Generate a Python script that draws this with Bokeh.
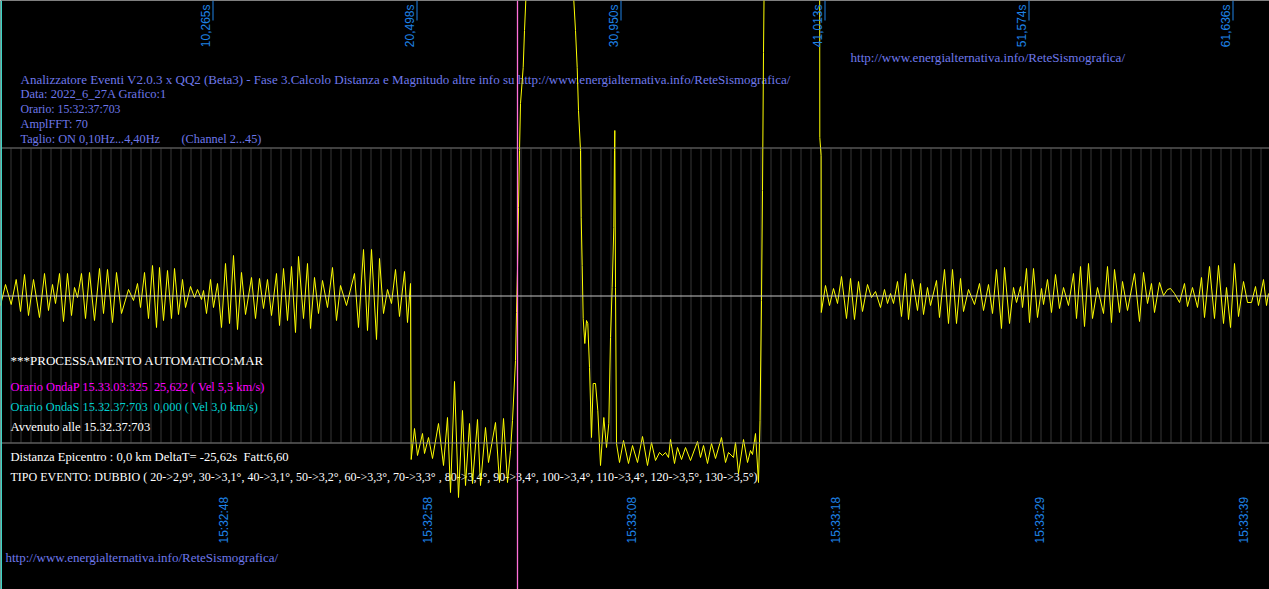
import numpy as np
from bokeh.plotting import figure
from bokeh.models import Range1d
from bokeh.core.properties import value
from bokeh.embed import file_html
from bokeh.resources import INLINE

# ---------------- data (x = sample position, y = amplitude, up positive) -------------
noise_pre_x = [0, 5, 10.7, 15.7, 20, 24, 28, 33, 39, 44, 48, 52, 55, 59, 63, 67, 71, 74, 77, 81,
               85, 89, 94, 99, 103, 107, 112, 116, 121, 128, 133, 137, 140, 144, 148, 152, 156, 159,
               163, 167, 171, 174, 178, 182, 185, 190, 194, 197, 201, 203, 206, 210, 213, 217, 221,
               225, 229, 233, 237, 241, 245, 251, 255, 259, 263, 267, 271, 276, 279, 283, 287, 291,
               295, 298, 303, 307, 310, 314, 318, 322, 327, 332, 336, 340, 346, 354, 358, 363, 367,
               371, 376, 379, 383, 387, 391, 395, 399, 404, 407, 410]
noise_pre_y = [-10, 11, -9, 16, -16, 21, -20, 16, -22, 22, -15, 11, -8, 22, -26, 22, -20, 8, -2, 22,
               -23, 23, -25, 27, -18, 26, -27, 23, -18, 6, -5, 12, -12, 23, -23, 30, -32, 28,
               -25, 25, -23, 27, -19, 16, -12, 9, -2, 6, -4, 5, -18, 16, -12, 12, -32,
               32, -28, 40, -34, 23, -19, 18, -23, 17, -13, 16, -20, 22, -30, 27, -25, 29,
               -37, 39, -23, 32, -33, 18, -18, 15, -12, 28, -25, 10, -10, 22, -32, 46, -35,
               46, -44, 37, -18, 6, -8, 26, -21, 24, -27, 12]

event_x = [410.7, 414, 417, 422, 424, 428, 432, 438, 443, 447, 450, 454, 458, 462, 465, 469, 472,
           477, 480, 485, 488, 495, 499, 503, 507, 510, 512, 515, 516, 517, 518, 519, 520, 522.7,
           524, 525.3, 549, 573.3, 575, 576.7, 578, 580, 580.7, 581.7, 582.7, 584.3, 586, 587.3,
           589, 591, 592.7, 595, 597.3, 600, 603.3, 606, 608.3, 610, 611.7, 613.3, 614, 614.3, 615,
           616, 619, 623, 628, 632, 637, 642, 647, 651, 655, 659, 662, 665, 668, 670, 674, 677,
           681, 685, 690, 697, 700, 703, 707, 711, 715, 721, 725, 728, 733, 735, 738, 743, 747,
           750, 752, 755, 758, 759.5, 761, 762, 763, 763.5, 791, 819.2, 819.3, 820.6, 820.8]
event_y = [-164, -133, -160, -138, -158, -142, -163, -128, -170, -122, -197, -86, -202, -115, -190,
           -128, -188, -124, -190, -132, -167, -127, -187, -123, -187, -155, -125, -65, -17, 27, 88,
           145, 192, 228, 265, 295, 420, 295, 265, 228, 185, 145, 78, 30, -23, -48, -25, -28, -72,
           -142, -88, -88, -115, -170, -122, -152, -128, -42, 8, 68, 145, 165, 8,
           -148, -167, -145, -168, -150, -167, -141, -170, -147, -165, -157, -160, -157, -162,
           -144, -168, -152, -164, -152, -165, -146, -162, -150, -168, -148, -163, -142, -167,
           -157, -162, -147, -178, -144, -167, -155, -159, -138, -187, -125, -5, 105, 243, 295,
           420, 300, 158, 140, -17]

noise_post_x = [825, 829, 833, 837, 841, 846, 850, 854, 858, 862, 867, 871, 875, 880, 884, 887, 890,
                893, 897, 901, 905, 908, 912, 917, 920, 923, 927, 930, 936, 939, 944, 948, 952, 956,
                960, 963, 968, 974, 979, 983, 988, 992, 996, 1001, 1004, 1009, 1013, 1016, 1020,
                1022, 1026, 1029, 1033, 1037, 1041, 1043, 1047, 1051, 1055, 1059, 1063, 1068, 1073,
                1076, 1080, 1084, 1088, 1092, 1097, 1103, 1107, 1111, 1114, 1119, 1122, 1127, 1134,
                1139, 1143, 1147, 1151, 1154, 1159, 1163, 1167, 1170, 1174, 1179, 1184, 1187, 1192,
                1197, 1201, 1204, 1209, 1214, 1218, 1223, 1226, 1230, 1234, 1238, 1243, 1247, 1251,
                1255, 1258, 1263, 1266, 1268]
noise_post_y = [10, -10, 7, -8, 19, -23, 17, -24, 14, -16, 11, -2, 4, -12, 6, -8, 2,
                -8, 14, -21, 22, -24, 16, -15, 12, -19, 8, -10, 15, -22, 26, -28, 26, -28,
                17, -16, 6, -9, 12, -15, 11, -18, 26, -33, 28, -28, 8, -7, 9,
                -12, 27, -27, 27, -22, 7, -9, 16, -17, 21, -13, 8, -10, 22,
                -23, 29, -31, 32, -23, 8, -18, 29, -27, 26, -17, 14, -15, 22,
                -26, 23, -8, 12, -17, 13, 0, 6, 7, 2, -7, 12, -11, 8,
                -12, 18, -22, 29, -23, 30, -28, 8, -32, 32, -21, 14, -7, -7,
                9, -10, 16, -10, 2]

top_tick_x = [212, 416, 620, 824, 1028, 1232]
top_tick_labels = ["10,265s", "20,498s", "30,950s", "41,013s", "51,574s", "61,636s"]
bottom_tick_x = [224, 428, 632, 836, 1040, 1244]
bottom_tick_labels = ["15:32:48", "15:32:58", "15:33:08", "15:33:18", "15:33:29", "15:33:39"]
onda_marker_x = 517

NB = "\u00a0"
header_lines = [
    "Analizzatore Eventi V2.0.3 x QQ2 (Beta3) - Fase 3.Calcolo Distanza e Magnitudo altre info su http://www.energialternativa.info/ReteSismografica/",
    "Data: 2022_6_27A Grafico:1",
    "Orario: 15:32:37:703",
    "AmplFFT: 70",
    "Taglio: ON 0,10Hz...4,40Hz" + NB * 7 + "(Channel 2...45)",
]
site_url = "http://www.energialternativa.info/ReteSismografica/"
proc_line = "***PROCESSAMENTO AUTOMATICO:MAR"
onda_p_line = "Orario OndaP 15.33.03:325" + NB * 2 + "25,622 ( Vel 5,5 km/s)"
onda_s_line = "Orario OndaS 15.32.37:703" + NB * 2 + "0,000 ( Vel 3,0 km/s)"
avvenuto_line = "Avvenuto alle 15.32.37:703"
distanza_line = "Distanza Epicentro : 0,0 km DeltaT= -25,62s" + NB * 2 + "Fatt:6,60"
tipo_line = ("TIPO EVENTO: DUBBIO ( 20->2,9°, 30->3,1°, 40->3,1°, 50->3,2°, 60->3,3°, 70->3,3° , "
             "80->3,4°, 90->3,4°, 100->3,4°, 110->3,4°, 120->3,5°, 130->3,5°)")

# ---------------- figure -------------
TOP = 295  # amplitude at top edge of the canvas


def yy(py):
    """convert a canvas pixel row into amplitude coordinate"""
    return TOP - py


p = figure(width=1269, height=589, x_range=Range1d(0, 1269), y_range=Range1d(-294, 295),
           output_backend="svg", toolbar_location=None, x_axis_type=None, y_axis_type=None,
           min_border=0, background_fill_color="black", border_fill_color="black",
           outline_line_color=None)

# vertical grid
gx = np.arange(10.5, 1269, 10)
p.segment(x0=gx, y0=yy(148), x1=gx, y1=yy(442), line_color="#363636", line_width=1)

# text
serif = value("Liberation Serif")
sans = value("Liberation Sans")
hdr_col = "#6e78ea"
DY = -5.5
p.text(x=[20] * 5, y=[yy(84.5 + DY + 14.75 * i) for i in range(5)], text=header_lines,
       text_font=serif, text_font_size=["13px", "12.5px", "11.8px", "12.3px", "12.3px"],
       text_color=hdr_col, text_baseline="alphabetic")
p.text(x=[850, 5], y=[yy(62 + DY), yy(562 + DY)], text=[site_url, site_url], text_font=serif,
       text_font_size=["13.1px", "13px"], text_color=hdr_col, text_baseline="alphabetic")

left_lines = [proc_line, onda_p_line, onda_s_line, avvenuto_line, distanza_line, tipo_line]
left_cols = ["#ffffff", "#ff00ff", "#00d2d2", "#ffffff", "#ffffff", "#ffffff"]
left_sizes = ["13px", "12.4px", "12.35px", "12.6px", "12.6px", "12px"]
left_base = [365.5, 392, 412, 432, 462, 482]
p.text(x=[10] * 6, y=[yy(b + DY) for b in left_base], text=left_lines, text_color=left_cols,
       text_font=serif, text_font_size=left_sizes, text_baseline="alphabetic")

# waveform
wx = noise_pre_x + event_x + noise_post_x
wy = noise_pre_y + event_y + noise_post_y
p.line(wx, wy, line_color="#ffff00", line_width=1)

# horizontal reference lines
p.segment(x0=[0, 0, 0], y0=[yy(147.5), yy(295.5), yy(442.5)], x1=[1269, 1269, 1269],
          y1=[yy(147.5), yy(295.5), yy(442.5)], line_color=["#808080", "#c8c8c8", "#8a8a8a"],
          line_width=1)

# tick labels
blue = "#1e82e6"
p.segment(x0=[x + 0.5 for x in top_tick_x], y0=[yy(0)] * 6, x1=[x + 0.5 for x in top_tick_x],
          y1=[yy(20)] * 6, line_color=blue, line_width=1)
p.text(x=[x - 6.5 for x in top_tick_x], y=[yy(4)] * 6, text=top_tick_labels, angle=np.pi / 2,
       text_align="right", text_baseline="middle", text_font=sans, text_font_size="12px",
       text_color=blue)
p.text(x=[x - 0.5 for x in bottom_tick_x], y=[yy(543)] * 6, text=bottom_tick_labels,
       angle=np.pi / 2, text_align="left", text_baseline="middle", text_font=sans,
       text_font_size="12px", text_color=blue)

# markers
p.segment(x0=[onda_marker_x], y0=[-294], x1=[onda_marker_x], y1=[295], line_color="#ff70d8",
          line_width=1.3)
p.segment(x0=[0.7], y0=[-294], x1=[0.7], y1=[295], line_color="#40e0d0", line_width=1.5)

open("out.html", "w").write(file_html(p, INLINE))
